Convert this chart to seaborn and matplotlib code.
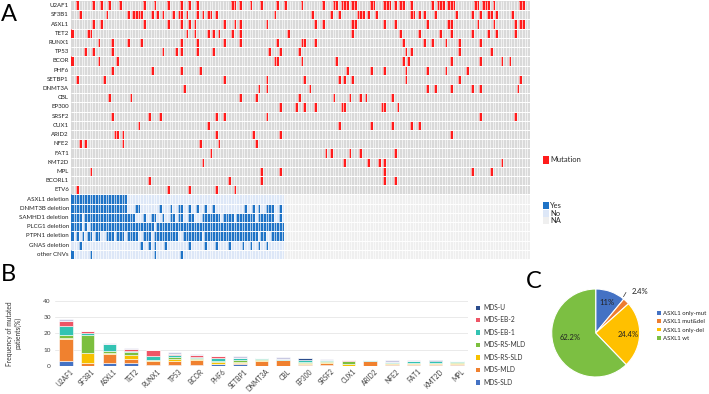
import numpy as np
import pandas as pd
import seaborn as sns
import matplotlib.pyplot as plt
import matplotlib.transforms as mtransforms
from matplotlib.colors import ListedColormap
from matplotlib.patches import Patch

sns.set_theme(style="white")
plt.rcParams['font.family'] = ['Lato', 'DejaVu Sans']

# ---------------- panel A data (column index = patient) ----------------
n_samples = 172
n_cnv_samples = 80

genes = ["U2AF1", "SF3B1", "ASXL1", "TET2", "RUNX1", "TP53", "BCOR", "PHF6",
         "SETBP1", "DNMT3A", "CBL", "EP300", "SRSF2", "CUX1", "ARID2", "NFE2",
         "FAT1", "KMT2D", "MPL", "BCORL1", "ETV6"]

u2af1_mut = [2, 8, 11, 14, 18, 27, 31, 36, 41, 44, 47, 60, 61, 63, 67, 71, 77, 80, 86,
             94, 98, 99, 101, 102, 103, 105, 106, 112, 113, 117, 118, 119, 121, 123,
             124, 127, 135, 137, 138, 139, 141, 142, 143, 151, 152, 154, 155, 156,
             158, 168, 169]
sf3b1_mut = [3, 13, 21, 23, 24, 25, 26, 30, 32, 34, 38, 40, 41, 43, 47, 49, 51, 52, 54,
             76, 90, 97, 100, 107, 108, 109, 111, 114, 127, 128, 130, 132, 136, 144,
             150, 153, 156, 157, 159, 165]
asxl1_mut = [8, 11, 27, 36, 41, 44, 46, 57, 61, 63, 73, 91, 94, 105, 106, 117, 121,
             133, 141, 142, 152, 158, 166, 168, 169]
tet2_mut = [0, 6, 7, 43, 46, 51, 53, 55, 60, 63, 81, 105, 123, 130, 138, 142, 150,
            156, 159, 166]
runx1_mut = [10, 15, 21, 26, 41, 47, 57, 63, 77, 86, 87, 91, 124, 132, 135, 140, 145, 153]
tp53_mut = [5, 8, 15, 34, 39, 41, 47, 53, 74, 78, 85, 125, 127, 145, 157]
bcor_mut = [0, 10, 17, 76, 77, 86, 99, 124, 126, 142, 153, 161, 164]
phf6_mut = [15, 30, 41, 48, 103, 112, 117, 125, 133, 140, 148]
setbp1_mut = [2, 12, 57, 73, 87, 100, 102, 105, 125, 145, 168]
dnmt3a_mut = [42, 70, 73, 89, 133, 136, 142, 150, 153, 167]
cbl_mut = [14, 22, 63, 69, 85, 98, 104, 108, 110, 120]
ep300_mut = [78, 84, 87, 91, 101, 102, 116, 117, 122]
srsf2_mut = [15, 29, 33, 54, 57, 73, 153, 166]
cux1_mut = [25, 51, 100, 112, 120, 127, 130]
arid2_mut = [16, 17, 19, 54, 68, 78, 142]
nfe2_mut = [3, 5, 19, 48, 55, 69]
fat1_mut = [52, 95, 97, 104, 108, 121]
kmt2d_mut = [49, 102, 111, 115, 117, 161]
mpl_mut = [7, 71, 78, 117, 150, 157]
bcorl1_mut = [29, 59, 71, 117, 121]
etv6_mut = [2, 36, 44, 54, 61]

mut_cols = [u2af1_mut, sf3b1_mut, asxl1_mut, tet2_mut, runx1_mut, tp53_mut, bcor_mut,
            phf6_mut, setbp1_mut, dnmt3a_mut, cbl_mut, ep300_mut, srsf2_mut, cux1_mut,
            arid2_mut, nfe2_mut, fat1_mut, kmt2d_mut, mpl_mut, bcorl1_mut, etv6_mut]

cnvs = ["ASXL1 deletion", "DNMT3B deletion", "SAMHD1 deletion", "PLCG1 deletion",
        "PTPN1 deletion", "GNAS deletion", "other CNVs"]

asxl1_del = list(range(0, 21))
dnmt3b_del = list(range(0, 21)) + [24, 25, 33, 37, 40, 41, 44, 47, 50, 53,
                                   65, 68, 70, 73, 74, 75, 78]
samhd1_del = ([0, 1, 2, 3, 5] + list(range(6, 24)) + [27, 30, 31, 34, 37, 38, 40, 41, 44, 45]
              + list(range(49, 56)) + list(range(57, 61)) + [62, 63]
              + list(range(64, 69)) + list(range(70, 76)) + [78])
plcg1_del = [0, 1, 2, 3, 5, 7, 8, 9] + list(range(10, 31)) + list(range(32, 80))
ptpn1_del = ([0, 2, 4, 6, 7, 9, 10, 13, 14, 15, 17, 18, 19, 21, 22, 23, 24, 27, 28, 29]
             + list(range(31, 40)) + list(range(42, 49)) + list(range(50, 70))
             + [71, 72] + list(range(75, 80)))
gnas_del = [3, 26, 29, 31, 35, 44, 50, 54, 59, 64, 67, 70, 73]
other_cnv = [0, 7, 31, 41]

cnv_cols = [asxl1_del, dnmt3b_del, samhd1_del, plcg1_del, ptpn1_del, gnas_del, other_cnv]

# ---------------- panel B data (% of patients) ----------------
b_genes = ["U2AF1", "SF3B1", "ASXL1", "TET2", "RUNX1", "TP53", "BCOR", "PHF6", "SETBP1",
           "DNMT3A", "CBL", "EP300", "SRSF2", "CUX1", "ARID2", "NFE2", "FAT1", "KMT2D", "MPL"]
mds_sld = [3.2, 0.0, 1.9, 1.4, 0.4, 0.4, 0.4, 0.8, 0.8, 0.0, 0.0, 0.6, 0.6, 0.0, 0.0, 0.4, 0.4, 0.5, 0.4]
mds_mld = [13.2, 1.5, 5.4, 2.6, 2.8, 2.6, 3.4, 0.4, 0.8, 2.8, 3.6, 0.4, 0.8, 0.0, 3.1, 0.6, 0.8, 0.3, 0.4]
mds_rs_sld = [0.8, 6.6, 0.4, 2.6, 0.2, 1.2, 0.6, 0.8, 0.8, 1.0, 0.0, 0.6, 0.8, 1.2, 0.0, 0.6, 0.6, 0.6, 0.6]
mds_rs_mld = [2.0, 11.0, 1.4, 1.6, 0.2, 1.0, 0.6, 0.6, 1.0, 0.6, 0.0, 0.6, 0.4, 2.0, 0.0, 0.0, 0.0, 0.4, 0.8]
mds_eb1 = [5.2, 1.4, 4.4, 1.0, 2.6, 1.4, 0.6, 2.0, 1.2, 0.6, 0.8, 1.4, 1.0, 0.0, 0.4, 0.8, 1.2, 0.8, 0.6]
mds_eb2 = [3.4, 0.8, 0.0, 0.9, 3.5, 0.6, 0.8, 1.4, 0.0, 0.0, 0.0, 0.0, 0.0, 0.4, 0.0, 0.0, 0.0, 0.0, 0.0]
mds_u = [0.0, 0.0, 0.0, 0.0, 0.0, 0.0, 0.0, 0.0, 0.0, 0.0, 0.0, 1.2, 0.0, 0.0, 0.0, 0.0, 0.0, 0.9, 0.0]
mds_other = [0.8, 0.4, 0.3, 0.6, 0.0, 1.0, 0.8, 0.0, 1.2, 0.0, 1.0, 0.0, 0.4, 0.0, 0.0, 1.0, 0.4, 0.0, 0.3]

subtypes = ["MDS-U", "MDS-EB-2", "MDS-EB-1", "MDS-RS-MLD", "MDS-RS-SLD", "MDS-MLD", "MDS-SLD"]
subtype_colors = ["#2b4c8c", "#ee5566", "#33c3b3", "#7cbf3e", "#f7c100", "#f0812f", "#4472c4"]

# ---------------- panel C data ----------------
pie_labels = ["ASXL1 only-mut", "ASXL1 mut&del", "ASXL1 only-del", "ASXL1 wt"]
pie_values = [11.0, 2.4, 24.4, 62.2]
pie_colors = ["#4472c4", "#ed7d31", "#ffc000", "#7cbf42"]

fig = plt.figure(figsize=(7.09, 3.94), dpi=100)
W, H = 709, 394

# ================= A: oncoprint =================
n_rows = len(genes) + len(cnvs)
mat = np.zeros((n_rows, n_samples))
for i, cols in enumerate(mut_cols):
    mat[i, cols] = 1
for j, cols in enumerate(cnv_cols):
    r = len(genes) + j
    mat[r, :] = 4
    mat[r, :n_cnv_samples] = 2
    mat[r, cols] = 3

cmap = ListedColormap(["#d9d9d9", "#ff1c1c", "#dde7f7", "#1f73c6", "#efefef"])
ax_a = fig.add_axes([71 / W, 1 - 259 / H, 459 / W, 258 / H])
sns.heatmap(mat, ax=ax_a, cmap=cmap, vmin=-0.5, vmax=4.5, cbar=False,
            xticklabels=False, yticklabels=genes + cnvs)
# thin white cell borders
ax_a.vlines(np.arange(1, n_samples), 0, n_rows, color="white", lw=0.45)
ax_a.hlines(np.arange(1, n_rows), 0, n_samples, color="white", lw=0.7)
ax_a.tick_params(axis="y", length=0, pad=1.5, labelsize=4.4, labelcolor="#222222")
for t in ax_a.get_yticklabels():
    t.set_rotation(0)

fig.legend(handles=[Patch(fc="#ff1c1c", ec="none")], labels=["Mutation"],
           loc="upper left", bbox_to_anchor=(543 / W, 1 - 156 / H), frameon=False,
           fontsize=5.4, handlelength=0.8, handleheight=1.2, handletextpad=0.15,
           borderpad=0, borderaxespad=0)
fig.legend(handles=[Patch(fc=c, ec="none") for c in ["#1f73c6", "#dde7f7", "#efefef"]],
           labels=["Yes", "No", "NA"],
           loc="upper left", bbox_to_anchor=(543 / W, 1 - 202 / H), frameon=False,
           fontsize=5.4, handlelength=0.8, handleheight=1.1, handletextpad=0.15,
           labelspacing=0.05, borderpad=0, borderaxespad=0)

# ================= B: stacked bars =================
wide = pd.DataFrame({"gene": b_genes, "_other": mds_other, "MDS-U": mds_u,
                     "MDS-EB-2": mds_eb2, "MDS-EB-1": mds_eb1, "MDS-RS-MLD": mds_rs_mld,
                     "MDS-RS-SLD": mds_rs_sld, "MDS-MLD": mds_mld, "MDS-SLD": mds_sld})
long = wide.melt(id_vars="gene", var_name="subtype", value_name="freq")
hue_order = ["_other"] + subtypes
pal = dict(zip(hue_order, ["#c9c9e2"] + subtype_colors))

ax_b = fig.add_axes([55 / W, 1 - 365.7 / H, 413 / W, 64.7 / H])
sns.histplot(data=long, x="gene", weights="freq", hue="subtype", hue_order=hue_order,
             multiple="stack", discrete=True, shrink=0.62, palette=pal, alpha=1,
             edgecolor="white", linewidth=0.4, legend=False, ax=ax_b)
ax_b.set_xlim(-0.5, len(b_genes) - 0.5)
ax_b.set_ylim(0, 40)
ax_b.set_yticks([0, 10, 20, 30, 40])
ax_b.yaxis.grid(True, color="#e6e6e6", lw=0.6)
ax_b.set_axisbelow(True)
for s in ax_b.spines.values():
    s.set_visible(False)
ax_b.set_xlabel("")
ax_b.set_ylabel("Frequency of mutated\npatients(%)", fontsize=4.8, color="#333333")
ax_b.yaxis.set_label_coords(-(55 - 21) / 413, 0.5)
ax_b.tick_params(axis="y", length=0, pad=3, labelsize=4.6, labelcolor="#404040")
ax_b.tick_params(axis="x", length=0, pad=1.5)
ax_b.set_xticks(range(len(b_genes)))
ax_b.set_xticklabels(b_genes, rotation=45, ha="right", rotation_mode="anchor",
                     fontsize=4.8, color="#404040")
shift = mtransforms.ScaledTranslation(4 / 100, 0, fig.dpi_scale_trans)
for t in ax_b.get_xticklabels():
    t.set_transform(t.get_transform() + shift)

fig.legend(handles=[Patch(fc=c, ec="none") for c in subtype_colors], labels=subtypes,
           loc="upper left", bbox_to_anchor=(476 / W, 1 - 304 / H), frameon=False,
           fontsize=4.8, handlelength=0.6, handleheight=0.6, handletextpad=0.5,
           labelspacing=0.82, borderpad=0, borderaxespad=0, labelcolor="#333333")

# ================= C: pie =================
ax_c = fig.add_axes([(595.7 - 44) / W, 1 - (333 + 44) / H, 88 / W, 88 / H])
wedges, texts, autotexts = ax_c.pie(pie_values, colors=pie_colors, startangle=90,
                                    counterclock=False, autopct="%.1f%%",
                                    pctdistance=0.74,
                                    wedgeprops=dict(edgecolor="white", linewidth=0.8),
                                    textprops=dict(fontsize=5.5, color="#222222"))
ax_c.set_xlim(-1, 1)
ax_c.set_ylim(-1, 1)
autotexts[0].set_text("11%")
autotexts[1].set_text("")
autotexts[3].set_position((-0.58, -0.11))
ax_c.annotate("2.4%", xy=(0.6, 0.77), xytext=(0.82, 0.95), fontsize=5.5, color="#222222",
              ha="left", va="center",
              arrowprops=dict(arrowstyle="-", color="#333333", lw=0.5,
                              connectionstyle="angle,angleA=0,angleB=60,rad=0"))

fig.legend(handles=[Patch(fc=c, ec="none") for c in pie_colors], labels=pie_labels,
           loc="upper left", bbox_to_anchor=(657 / W, 1 - 311 / H), frameon=False,
           fontsize=4.3, handlelength=0.6, handleheight=0.6, handletextpad=0.4,
           labelspacing=0.55, borderpad=0, borderaxespad=0, labelcolor="#222222")

# panel letters
fig.text(0.002, 0.99, "A", fontsize=17, va="top", ha="left", color="black")
fig.text(0.001, 1 - 264 / H, "B", fontsize=17, va="top", ha="left", color="black")
fig.text(526 / W, 1 - 271 / H, "C", fontsize=17, va="top", ha="left", color="black")

fig.savefig("out.png", dpi=100)
